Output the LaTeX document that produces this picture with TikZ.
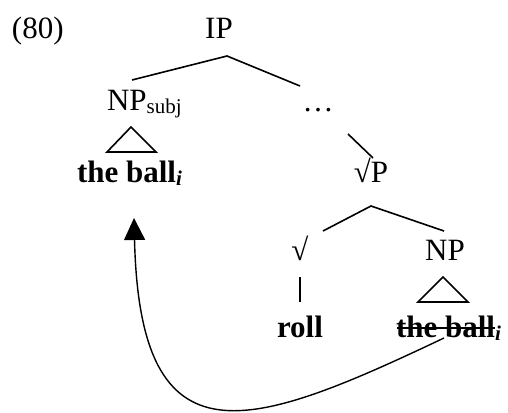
\documentclass[tikz,border=0pt]{standalone}
\usepackage{fontspec}
\setmainfont{Liberation Serif}
\usetikzlibrary{arrows.meta}
\tikzset{
  lbl/.style={inner sep=0pt, outer sep=0pt, font=\fontsize{31}{36}\selectfont},
  branch/.style={line width=1.6pt},
  tri/.style={line width=1.6pt, line join=miter},
  movearrow/.style={line width=1.4pt, -{Triangle[length=22pt,width=21pt]}}
}
\newcommand{\smallsub}[1]{\raisebox{-3pt}{\fontsize{21}{24}\selectfont #1}}
\begin{document}
\begin{tikzpicture}[x=1pt,y=-1pt]
\useasboundingbox (0,0) rectangle (508,412);
% labels
\node[lbl, anchor=base west] (ex) at (12,38) {(80)};
\node[lbl, anchor=base] (IP) at (219,38) {IP};
\node[lbl, anchor=base west] (NPs) at (107,110) {NP\smallsub{subj}};
\node[lbl, anchor=base] (dots) at (318,111) {…};
\node[lbl, anchor=base west] (tb1) at (77,182) {\textbf{the ball}\smallsub{\textbf{\textit{i}}}};
\node[lbl, anchor=base] (rP) at (371,182) {√P};
\node[lbl, anchor=base] (rt) at (300,260) {√};
\node[lbl, anchor=base] (NPo) at (445,260) {NP};
\node[lbl, anchor=base] (roll) at (300,337) {\textbf{roll}};
\node[lbl, anchor=base west] (tb2) at (396,337) {\textbf{the ball}\smallsub{\textbf{\textit{i}}}};
% branch points
\coordinate (ipA) at (227,56);
\coordinate (ipL) at (132,80);
\coordinate (ipR) at (300,86);
\coordinate (dA) at (348,134);
\coordinate (dB) at (373,158);
\coordinate (rpA) at (371,206);
\coordinate (rpL) at (323,231);
\coordinate (rpR) at (444,231);
\coordinate (vA) at (300,277);
\coordinate (vB) at (300,302);
% branches
\draw[branch] (ipL) -- (ipA) -- (ipR);
\draw[branch] (dA) -- (dB);
\draw[branch] (rpL) -- (rpA) -- (rpR);
\draw[branch] (vA) -- (vB);
% triangles
\draw[tri] (131,127) -- (107,152) -- (156,152) -- cycle;
\draw[tri] (443,277) -- (418,302) -- (468,302) -- cycle;
% strike-through
\draw[line width=2pt] (397,328) -- (495,328);
% movement arrow
\coordinate (mvS) at (444,338);
\coordinate (mvE) at (134,218);
\draw[movearrow] (mvS) .. controls (250,430) and (140,470) .. (mvE);
\end{tikzpicture}
\end{document}
